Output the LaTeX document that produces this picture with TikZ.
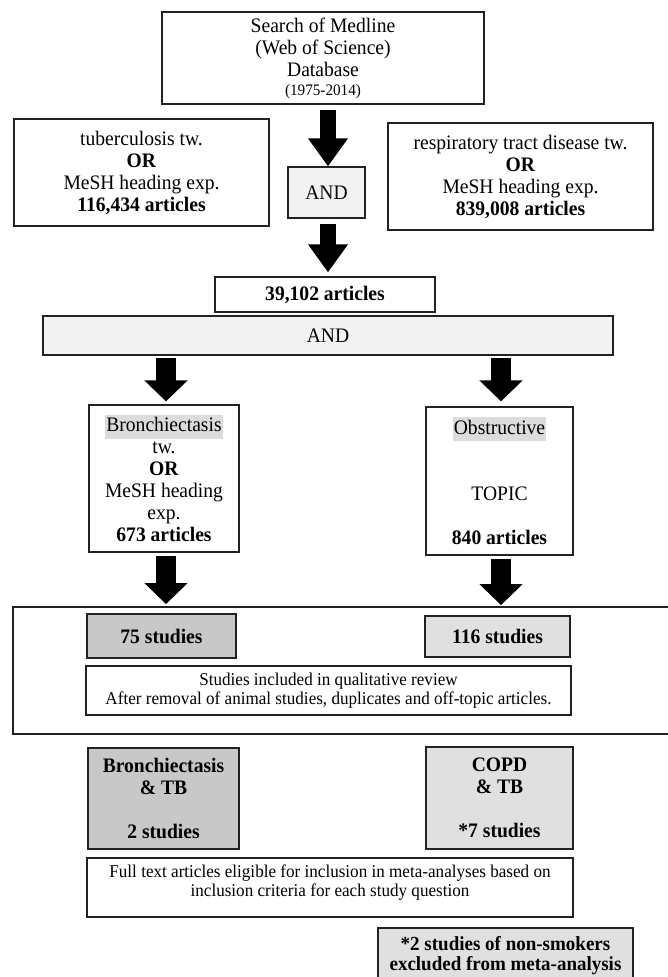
\documentclass[tikz,border=0pt]{standalone}
\usepackage{fontspec}
\setmainfont[FakeStretch=0.95]{Liberation Serif}
\usetikzlibrary{arrows.meta,calc}
\definecolor{andfill}{HTML}{F2F2F2}
\definecolor{darkfill}{HTML}{C8C8C8}
\definecolor{lightfill}{HTML}{E0E0E0}
\definecolor{hlgray}{HTML}{DCDCDC}
\definecolor{edge}{HTML}{222222}
\newcommand{\hlbox}[1]{{\setlength{\fboxsep}{1pt}\colorbox{hlgray}{\rule[-0.27em]{0pt}{1.05em}#1}}}
\begin{document}
\begin{tikzpicture}[x=1pt,y=-1pt,
  box/.style={draw=edge, line width=1.2pt, inner sep=0pt, align=center, font=\fontsize{20.6}{22}\selectfont},
  smallbox/.style={box, font=\fontsize{18}{19.5}\selectfont},
  toparrow/.style={line width=16pt, -{Triangle[length=28pt 0 0, width=38pt 0 0]}},
  botarrow/.style={line width=20pt, -{Triangle[length=21pt 0 0, width=42pt 0 0]}}]
\useasboundingbox (0,0) rectangle (667,977);

% top search box
\node[box, minimum width=322pt, minimum height=92pt] (top) at (323,58)
  {Search of Medline\\(Web of Science)\\Database\\[-3pt]{\fontsize{16}{15}\selectfont (1975-2014)}};

\node[box, minimum width=255pt, minimum height=107pt] (tb) at (141.5,172.5)
  {tuberculosis tw.\\\textbf{OR}\\MeSH heading exp.\\\textbf{116,434 articles}};

\node[box, minimum width=265pt, minimum height=107pt] (rtd) at (520.5,176.5)
  {respiratory tract disease tw.\\\textbf{OR}\\MeSH heading exp.\\\textbf{839,008 articles}};

\node[box, fill=andfill, minimum width=77pt, minimum height=51pt] (and1) at (326.5,192.5) {AND};

\node[box, minimum width=220pt, minimum height=35pt] (c39) at (325,294.5) {\textbf{39,102 articles}};

\node[box, fill=andfill, minimum width=570pt, minimum height=39pt] (andbar) at (328,335.5) {AND};

\node[box, minimum width=150pt, minimum height=147pt] (bro) at (164,478.5)
  {\hlbox{Bronchiectasis}\\tw.\\\textbf{OR}\\MeSH heading\\exp.\\\textbf{673 articles}};

\node[box, minimum width=147pt, minimum height=148pt] (obs) at (499.5,481)
  {\hlbox{Obstructive}\\\mbox{}\\\mbox{}\\TOPIC\\\mbox{}\\\textbf{840 articles}};

% big enclosing box (right side runs off the picture)
\node[box, line width=1.8pt, minimum width=660pt, minimum height=127pt] (big) at (343,670.5) {};

\node[box, fill=darkfill, minimum width=149pt, minimum height=44pt] (s75) at (161.5,636) {\textbf{75 studies}};
\node[box, fill=lightfill, minimum width=145pt, minimum height=41pt] (s116) at (497.5,636.5) {\textbf{116 studies}};

\node[smallbox, minimum width=485pt, minimum height=49pt] (qual) at (328.5,690.5)
  {Studies included in qualitative review\\After removal of animal studies, duplicates and off-topic articles.};

\node[box, fill=darkfill, minimum width=151pt, minimum height=101pt] (btb) at (163.5,798.5)
  {\textbf{Bronchiectasis}\\\textbf{\& TB}\\\mbox{}\\\textbf{2 studies}};

\node[box, fill=lightfill, minimum width=147pt, minimum height=102pt] (ctb) at (499.5,798)
  {\textbf{COPD}\\\textbf{\& TB}\\\mbox{}\\\textbf{*7 studies}};

\node[smallbox, minimum width=486pt, minimum height=59pt] (full) at (330,887.5)
  {Full text articles eligible for inclusion in meta-analyses based on\\inclusion criteria for each study question\\[-6pt]\mbox{}};

\node[box, fill=lightfill, font=\fontsize{20}{20}\selectfont\bfseries, minimum width=255pt, minimum height=56pt] (excl) at (505.5,956)
  {*2 studies of non-smokers\\excluded from meta-analysis};

% arrows
\draw[toparrow] ($(top.south)+(5,5)$) -- ($(and1.north)+(1.5,0)$);
\draw[toparrow] ($(and1.south)+(1.5,5)$) -- ($(c39.north)+(3,-4)$);
\draw[botarrow] ($(andbar.south -| bro.north)+(2,2)$) -- ($(bro.north)+(2,-3)$);
\draw[botarrow] ($(andbar.south -| obs.north)+(1.5,2)$) -- ($(obs.north)+(1.5,-5)$);
\draw[botarrow] ($(bro.south)+(2,3)$) -- ($(big.north -| bro.south)+(2,-2)$);
\draw[botarrow] ($(obs.south)+(1.5,3)$) -- ($(big.north -| obs.south)+(1.5,-1)$);
\end{tikzpicture}
\end{document}
